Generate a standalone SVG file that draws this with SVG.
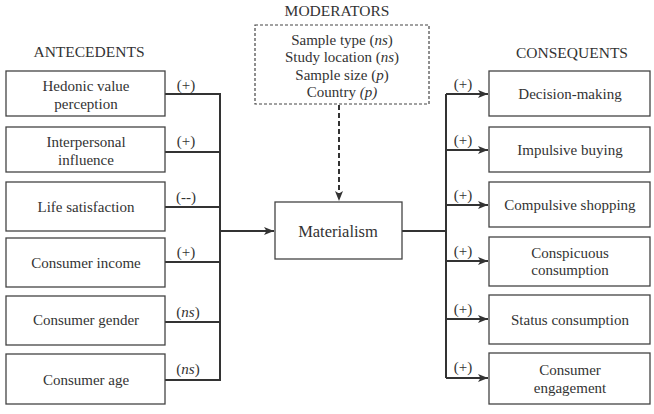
<svg xmlns="http://www.w3.org/2000/svg" width="654" height="414" viewBox="0 0 654 414">
<style>
text{font-family:"Liberation Serif","Times New Roman",serif;font-size:15px;fill:#333;text-anchor:middle}
.box{fill:#fff;stroke:#444;stroke-width:1.3}
.dash{fill:none;stroke:#444;stroke-width:1.2;stroke-dasharray:3,2}
.ln{fill:none;stroke:#333;stroke-width:2}
.ttl{font-size:15.5px}
</style>
<defs>
<marker id="ah" viewBox="0 0 10 10" refX="10" refY="5" markerWidth="5" markerHeight="5" orient="auto" markerUnits="strokeWidth">
<path d="M0,1 L10,5 L0,9 L2.5,5 z" fill="#333"/>
</marker>
</defs>
<rect width="654" height="414" fill="#fff"/>
<text x="89" y="57" class="ttl">ANTECEDENTS</text>
<text x="337" y="16" class="ttl">MODERATORS</text>
<text x="572" y="58" class="ttl">CONSEQUENTS</text>

<g id="connectors">
<path class="ln" d="M165,94 H220 V380 H165 M165,152 H220 M165,207 H220 M165,262 H220 M165,322 H220"/>
<path class="ln" d="M220,231 H274" marker-end="url(#ah)"/>
<path class="ln" d="M402,231 H446 M446,94 V378"/>
<path class="ln" d="M446,94 H488" marker-end="url(#ah)"/>
<path class="ln" d="M446,150 H488" marker-end="url(#ah)"/>
<path class="ln" d="M446,205 H488" marker-end="url(#ah)"/>
<path class="ln" d="M446,261 H488" marker-end="url(#ah)"/>
<path class="ln" d="M446,319 H488" marker-end="url(#ah)"/>
<path class="ln" d="M446,378 H488" marker-end="url(#ah)"/>
<path class="ln" d="M339,105 V201" stroke-dasharray="5,3" marker-end="url(#ah)"/>
<text x="186" y="90">(+)</text>
<text x="186" y="146">(+)</text>
<text x="186" y="202">(--)</text>
<text x="186" y="257">(+)</text>
<text x="188" y="317">(<tspan font-style="italic">ns</tspan>)</text>
<text x="188" y="374">(<tspan font-style="italic">ns</tspan>)</text>
<text x="463" y="89">(+)</text>
<text x="463" y="145">(+)</text>
<text x="463" y="200">(+)</text>
<text x="463" y="256">(+)</text>
<text x="463" y="314">(+)</text>
<text x="463" y="372">(+)</text>
</g>

<g id="a1"><rect class="box" x="6" y="71" width="159" height="45"/><text x="86" y="91">Hedonic value</text><text x="86" y="109">perception</text></g>
<g id="a2"><rect class="box" x="6" y="127" width="159" height="45"/><text x="86" y="147">Interpersonal</text><text x="86" y="165">influence</text></g>
<g id="a3"><rect class="box" x="6" y="182" width="159" height="49"/><text x="86" y="212">Life satisfaction</text></g>
<g id="a4"><rect class="box" x="6" y="238" width="159" height="49"/><text x="86" y="268">Consumer income</text></g>
<g id="a5"><rect class="box" x="6" y="296" width="159" height="49"/><text x="86" y="325">Consumer gender</text></g>
<g id="a6"><rect class="box" x="6" y="354" width="159" height="50"/><text x="86" y="385">Consumer age</text></g>

<g id="moderators"><rect class="dash" x="255" y="25" width="174" height="79"/>
<text x="342" y="45">Sample type (<tspan font-style="italic">ns</tspan>)</text>
<text x="342" y="62">Study location (<tspan font-style="italic">ns</tspan>)</text>
<text x="342" y="80">Sample size (<tspan font-style="italic">p</tspan>)</text>
<text x="342" y="97">Country <tspan font-style="italic">(p)</tspan></text>
</g>
<g id="materialism"><rect class="box" x="275" y="202" width="127" height="57"/><text x="338" y="237" style="font-size:16.5px">Materialism</text></g>

<g id="c1"><rect class="box" x="489" y="71" width="161" height="45"/><text x="570" y="99">Decision-making</text></g>
<g id="c2"><rect class="box" x="489" y="127" width="161" height="45"/><text x="570" y="155">Impulsive buying</text></g>
<g id="c3"><rect class="box" x="489" y="182" width="161" height="45"/><text x="570" y="210">Compulsive shopping</text></g>
<g id="c4"><rect class="box" x="489" y="237" width="161" height="49"/><text x="570" y="258">Conspicuous</text><text x="570" y="275">consumption</text></g>
<g id="c5"><rect class="box" x="489" y="295" width="161" height="49"/><text x="570" y="325">Status consumption</text></g>
<g id="c6"><rect class="box" x="489" y="353" width="161" height="51"/><text x="570" y="375">Consumer</text><text x="570" y="393">engagement</text></g>
</svg>
